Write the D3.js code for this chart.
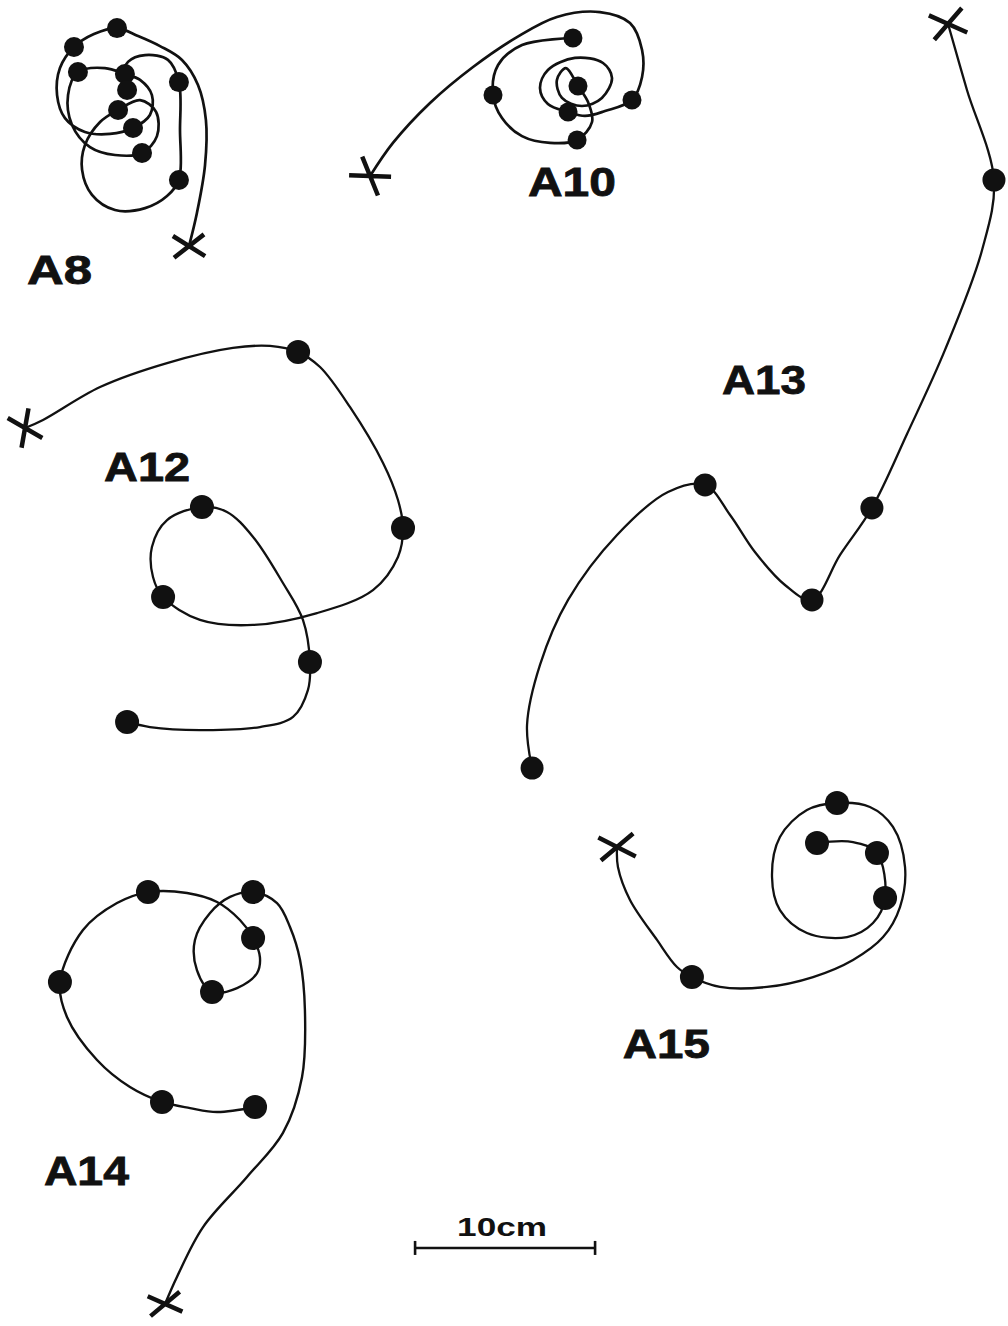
<!DOCTYPE html>
<html>
<head>
<meta charset="utf-8">
<script src="https://cdn.jsdelivr.net/npm/d3@7"></script>
<style>
  body { margin: 0; background: #fff; }
</style>
</head>
<body>
<script>
// Tracks, in cm from the top-left corner of the sheet.
// third value: 0 = bend of the trail, 1 = fix (dot), 2 = release point (cross)
const a8 = [
  [10.5, 13.67, 2], [10.94, 11.83, 0], [11.39, 9.17, 0], [11.44, 6.67, 0], [11.0, 4.72, 0],
  [10.11, 3.33, 0], [8.89, 2.56, 0], [7.67, 2.0, 0], [6.5, 1.56, 1], [5.22, 1.89, 0],
  [4.11, 2.61, 1], [3.33, 3.78, 0], [3.17, 5.28, 0], [3.61, 6.56, 0], [4.72, 7.33, 0],
  [6.11, 7.44, 0], [7.39, 7.11, 1], [8.33, 6.39, 0], [8.44, 5.28, 0], [7.78, 4.44, 0],
  [6.94, 4.11, 1], [5.83, 3.78, 0], [4.33, 4.0, 1], [3.78, 5.28, 0], [4.0, 6.94, 0],
  [5.0, 8.17, 0], [6.39, 8.61, 0], [7.89, 8.5, 1], [8.72, 7.56, 0], [8.67, 6.22, 0],
  [7.78, 5.56, 0], [6.56, 6.11, 1], [5.56, 6.78, 0], [4.72, 8.06, 0], [4.56, 9.44, 0],
  [5.11, 10.83, 0], [6.39, 11.67, 0], [8.06, 11.56, 0], [9.28, 10.89, 0], [9.94, 10.0, 1],
  [10.0, 7.22, 0], [9.94, 4.56, 1], [9.33, 3.33, 0], [8.06, 3.06, 0], [7.11, 3.44, 0],
  [6.78, 4.33, 0], [7.06, 5.0, 1]
]
const a10 = [
  [20.56, 9.78, 2], [21.83, 7.94, 0], [23.89, 5.72, 0], [26.28, 3.72, 0], [28.72, 2.06, 0],
  [30.94, 0.94, 0], [33.33, 0.67, 0], [35.0, 1.28, 0], [35.67, 2.78, 0], [35.67, 4.28, 0],
  [35.11, 5.56, 1], [33.61, 6.17, 0], [32.5, 6.44, 0], [31.56, 6.22, 1], [30.44, 5.78, 0],
  [30.0, 4.89, 0], [30.44, 3.89, 0], [31.94, 3.22, 0], [33.5, 3.5, 0], [34.0, 4.33, 0],
  [33.44, 5.44, 0], [32.33, 5.89, 0], [31.22, 5.44, 0], [30.94, 4.44, 0], [31.44, 3.78, 0],
  [32.11, 4.78, 1], [32.67, 5.67, 0], [32.89, 6.78, 0], [32.06, 7.78, 1], [30.56, 7.94, 0],
  [29.0, 7.56, 0], [27.89, 6.56, 0], [27.39, 5.28, 1], [27.67, 3.61, 0], [29.0, 2.5, 0],
  [31.83, 2.11, 1]
]
const a12 = [
  [1.39, 23.78, 2], [2.39, 23.33, 0], [5.56, 21.5, 0], [9.28, 20.17, 0], [12.94, 19.33, 0],
  [15.0, 19.22, 0], [16.56, 19.56, 1], [17.78, 20.39, 0], [19.44, 22.61, 0], [21.28, 25.72, 0],
  [22.11, 27.78, 0], [22.39, 29.33, 1], [22.11, 30.94, 0], [20.72, 32.78, 0], [17.61, 34.06, 0],
  [14.06, 34.72, 0], [11.11, 34.44, 0], [9.06, 33.17, 1], [8.5, 32.06, 0], [8.44, 30.39, 0],
  [9.28, 28.89, 0], [11.22, 28.17, 1], [12.61, 28.44, 0], [14.06, 29.83, 0], [15.72, 32.39, 0],
  [16.83, 34.44, 0], [17.22, 36.78, 1], [17.11, 38.33, 0], [16.28, 39.83, 0], [14.44, 40.39, 0],
  [11.11, 40.56, 0], [8.33, 40.39, 0], [7.06, 40.11, 1]
]
const a13 = [
  [52.67, 1.33, 2], [53.72, 5.0, 0], [55.22, 10.0, 1], [54.56, 13.89, 0], [52.5, 19.44, 0],
  [50.39, 24.11, 0], [48.44, 28.22, 1], [46.67, 30.83, 0], [45.11, 33.33, 1], [43.61, 32.5, 0],
  [41.94, 30.67, 0], [40.56, 28.61, 0], [39.17, 26.94, 1], [37.11, 27.33, 0], [34.28, 29.72, 0],
  [31.56, 33.33, 0], [30.0, 36.94, 0], [29.28, 40.28, 0], [29.56, 42.67, 1]
]
const a14 = [
  [9.17, 72.44, 2], [9.83, 70.94, 0], [11.28, 68.17, 0], [13.72, 65.39, 0], [15.72, 62.94, 0],
  [16.78, 59.83, 0], [16.94, 56.11, 0], [16.67, 53.33, 0], [16.11, 51.5, 0], [15.39, 50.17, 0],
  [14.06, 49.56, 1], [12.78, 49.83, 0], [11.67, 50.72, 0], [10.83, 52.22, 0], [10.94, 53.89, 0],
  [11.78, 55.11, 1], [13.17, 54.89, 0], [14.28, 54.06, 0], [14.44, 53.17, 0], [14.06, 52.11, 1],
  [13.33, 51.11, 0], [12.06, 50.11, 0], [10.39, 49.61, 0], [8.22, 49.56, 1], [6.5, 50.17, 0],
  [4.61, 51.67, 0], [3.33, 54.56, 1], [3.72, 56.5, 0], [5.39, 58.89, 0], [7.22, 60.39, 0],
  [9.0, 61.22, 1], [10.56, 61.56, 0], [12.06, 61.78, 0], [14.17, 61.5, 1]
]
const a15 = [
  [34.28, 47.06, 2], [34.33, 48.17, 0], [35.0, 50.0, 0], [36.5, 52.22, 0], [37.61, 53.72, 0],
  [38.44, 54.28, 1], [40.0, 54.83, 0], [42.61, 54.83, 0], [45.17, 54.28, 0], [47.39, 53.33, 0],
  [49.06, 52.06, 0], [50.0, 50.39, 0], [50.28, 48.17, 0], [49.61, 45.94, 0], [48.33, 44.83, 0],
  [46.5, 44.61, 1], [44.83, 45.0, 0], [43.33, 46.5, 0], [42.89, 48.72, 0], [43.33, 50.56, 0],
  [44.83, 51.83, 0], [47.06, 52.06, 0], [48.5, 51.28, 0], [49.17, 49.89, 1], [48.72, 47.39, 1],
  [47.39, 46.78, 0], [45.39, 46.83, 1]
]

const trackNames = ['A8', 'A10', 'A12', 'A13', 'A14', 'A15']
const trackData = [a8, a10, a12, a13, a14, a15]
const scaleBarLength = 10   // cm
const scaleBarLabel = '10cm'

// sheet size and drawing scale (18 px to the cm)
let width = 1008, height = 1326, pxPerCm = 18

let x = d3.scaleLinear().domain([0, width / pxPerCm]).range([0, width])
let y = d3.scaleLinear().domain([0, height / pxPerCm]).range([0, height])

// per-track look: dot radius, line width, cross arms (deg) and half-length, label spot (cm) and width (px)
let look = {
  A8:  { r: 10,   lw: 2.7, arms: [32, -38], arm: 19, label: [1.5, 15.75], lwid: 65 },
  A10: { r: 9.5,  lw: 2.7, arms: [2, 68],   arm: 21, label: [29.33, 10.9], lwid: 88 },
  A12: { r: 12,   lw: 2.3, arms: [30, 100], arm: 20, label: [5.78, 26.72], lwid: 86 },
  A13: { r: 11.5, lw: 2.3, arms: [24, -49], arm: 21, label: [40.11, 21.9], lwid: 84 },
  A14: { r: 12,   lw: 2.4, arms: [24, -40], arm: 19, label: [2.44, 65.85], lwid: 85 },
  A15: { r: 12,   lw: 2.3, arms: [27, -40], arm: 21, label: [34.6, 58.75], lwid: 87 }
}

let svg = d3.select('body')
            .append('svg')
            .attr('width', width)
            .attr('height', height)
            .style('background', '#fff')

let line = d3.line()
            .x(d => x(d[0]))
            .y(d => y(d[1]))
            .curve(d3.curveCatmullRom.alpha(0.5))

trackNames.forEach((name, i) => {
  let pts = trackData[i]
  let st = look[name]
  let g = svg.append('g').attr('class', 'track ' + name)

  g.append('path')
    .attr('d', line(pts))
    .attr('fill', 'none')
    .attr('stroke', '#111')
    .attr('stroke-width', st.lw)
    .attr('stroke-linecap', 'round')

  g.selectAll('circle')
    .data(pts.filter(d => d[2] === 1))
    .enter()
    .append('circle')
    .attr('cx', d => x(d[0]))
    .attr('cy', d => y(d[1]))
    .attr('r', st.r)
    .attr('fill', '#111')

  // release point drawn as a cross of two strokes
  g.selectAll('path.cross')
    .data(pts.filter(d => d[2] === 2))
    .enter()
    .append('path')
    .attr('class', 'cross')
    .attr('d', d => {
      let p = d3.path()
      st.arms.forEach(a => {
        let t = a * Math.PI / 180
        let dx = Math.cos(t) * st.arm, dy = Math.sin(t) * st.arm
        p.moveTo(x(d[0]) - dx, y(d[1]) - dy)
        p.lineTo(x(d[0]) + dx, y(d[1]) + dy)
      })
      return p.toString()
    })
    .attr('stroke', '#111')
    .attr('stroke-width', 4.5)
    .attr('fill', 'none')

  svg.append('text')
    .attr('x', x(st.label[0]))
    .attr('y', y(st.label[1]))
    .attr('textLength', st.lwid)
    .attr('lengthAdjust', 'spacingAndGlyphs')
    .style('font-family', '"Liberation Sans", Arial, sans-serif')
    .style('font-weight', 'bold')
    .style('font-size', '40px')
    .style('fill', '#111')
    .style('stroke', '#111')
    .style('stroke-width', 0.8)
    .text(name)
})

// scale bar
let barX = 23.06, barY = 69.33
let bar = svg.append('g')
bar.append('line')
  .attr('x1', x(barX)).attr('x2', x(barX + scaleBarLength))
  .attr('y1', y(barY)).attr('y2', y(barY))
  .attr('stroke', '#111').attr('stroke-width', 2.4)
;[barX, barX + scaleBarLength].forEach(v => {
  bar.append('line')
    .attr('x1', x(v)).attr('x2', x(v))
    .attr('y1', y(barY) - 7).attr('y2', y(barY) + 7)
    .attr('stroke', '#111').attr('stroke-width', 2.6)
})
bar.append('text')
  .attr('x', x(barX + scaleBarLength / 2) - 3)
  .attr('y', y(barY) - 12)
  .attr('text-anchor', 'middle')
  .attr('textLength', 90)
  .attr('lengthAdjust', 'spacingAndGlyphs')
  .style('font-family', '"Liberation Sans", Arial, sans-serif')
  .style('font-weight', 'bold')
  .style('font-size', '25px')
  .style('fill', '#111')
  .text(scaleBarLabel)
</script>
</body>
</html>
